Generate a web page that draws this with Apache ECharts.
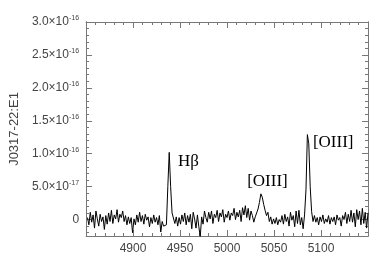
<!DOCTYPE html>
<html><head><meta charset="utf-8">
<script src="https://cdn.jsdelivr.net/npm/echarts@6/dist/echarts.min.js"></script>
<style>html,body{margin:0;padding:0;background:#fff}#c{width:387px;height:277px}</style>
</head><body><div id="c"></div>
<script>
// wavelength (Angstrom)
var wavelength = [4851.5,4853,4854.5,4856,4857.5,4859,4860.5,4862,4863.5,4865,4866.5,4868,4869.5,4871,4872.5,4874,4875.5,4877,4878.5,4880,
4881.5,4883,4884.5,4886,4887.5,4889,4890.5,4892,4893.5,4895,4896.5,4898,4899.5,4901,4902.5,4904,4905.5,4907,4908.5,4910,
4911.5,4913,4914.5,4916,4917.5,4919,4920.5,4922,4923.5,4925,4926.5,4928,4929.5,4931,4932.5,4934,4935.5,4937,4938.5,4940,
4941.5,4943,4944.5,4946,4947.5,4949,4950.5,4952,4953.5,4955,4956.5,4958,4959.5,4961,4962.5,4964,4965.5,4967,4968.5,4970,
4971.5,4973,4974.5,4976,4977.5,4979,4980.5,4982,4983.5,4985,4986.5,4988,4989.5,4991,4992.5,4994,4995.5,4997,4998.5,5000,
5001.5,5003,5004.5,5006,5007.5,5009,5010.5,5012,5013.5,5015,5016.5,5018,5019.5,5021,5022.5,5024,5025.5,5027,5028.5,5030,
5031.5,5033,5034.5,5036,5037.5,5039,5040.5,5042,5043.5,5045,5046.5,5048,5049.5,5051,5052.5,5054,5055.5,5057,5058.5,5060,
5061.5,5063,5064.5,5066,5067.5,5069,5070.5,5072,5073.5,5075,5076.5,5078,5079.5,5081,5082.5,5084,5085.5,5087,5088.5,5090,
5091.5,5093,5094.5,5096,5097.5,5099,5100.5,5102,5103.5,5105,5106.5,5108,5109.5,5111,5112.5,5114,5115.5,5117,5118.5,5120,
5121.5,5123,5124.5,5126,5127.5,5129,5130.5,5132,5133.5,5135,5136.5,5138,5139.5,5141,5142.5,5144,5145.5,5147,5148.5,5150];
// flux in units of 1e-17
var flux = [0.3,-0.8,1.1,-0.4,0.7,-1.3,1.3,0.1,-1.0,0.8,-0.3,0.4,-1.5,0.6,-0.7,1.0,-0.3,1.4,-0.6,0.7,
0.1,1.5,-0.4,0.8,0.3,1.3,-0.3,0.6,-0.8,0.4,-0.6,0.3,-2.0,0.1,-0.8,0.7,-0.4,1.1,-0.3,0.6,
-0.7,0.8,-0.1,0.4,-1.1,0.3,-0.6,0.7,-0.4,0.3,-0.8,0.6,-1.9,-0.3,-1.0,-1.2,-0.8,5.0,10.2,5.0,
1.0,0.8,-0.6,0.4,-1.0,0.3,-0.7,0.7,-0.3,1.0,-0.8,0.6,-0.4,0.8,-1.4,1.1,0.1,-1.3,0.7,-1.1,
-2.6,0.4,-0.7,1.3,0.3,-0.4,1.1,0.1,1.3,-0.6,0.8,0.3,1.4,-0.3,1.0,0.4,1.5,-0.4,0.8,0.3,
1.3,-0.1,1.0,0.6,1.7,0.0,1.1,0.4,1.4,-0.3,1.8,0.7,2.1,0.3,1.7,-0.1,1.3,0.6,-0.4,0.4,
1.0,1.6,2.6,3.9,3.4,2.3,1.4,0.6,1.1,-0.3,0.4,-0.7,0.1,-0.6,0.3,-0.8,0.0,-0.4,0.6,-0.7,
0.8,-0.3,0.4,-1.0,1.1,-0.1,0.6,-1.1,1.3,-0.6,1.4,-0.8,0.3,-1.4,0.7,4.5,12.9,11.5,5.0,1.2,
-0.3,0.6,-0.4,0.3,-0.8,0.4,-0.3,0.7,-0.6,0.1,-0.4,0.6,-0.7,0.3,-0.3,0.4,-0.8,0.7,-0.1,0.3,
-1.0,0.6,0.0,1.1,-0.6,0.8,-0.3,1.4,-0.4,1.0,-1.1,1.5,0.0,1.3,-0.8,1.7,-0.6,1.1,-1.3,1.0];

var xTicks = [4900, 4950, 5000, 5050, 5100];
var yTicks = [0, 5, 10, 15, 20, 25, 30];
var yTickLabels = ['0', '5.0×10{s|-17}', '1.0×10{s|-16}', '1.5×10{s|-16}', '2.0×10{s|-16}', '2.5×10{s|-16}', '3.0×10{s|-16}'];
var yMinorTicks = [-2,-1,1,2,3,4,6,7,8,9,11,12,13,14,16,17,18,19,21,22,23,24,26,27,28,29];
var lineLabels = ['Hβ', '[OIII]', '[OIII]'];
var lineLabelPos = [[4959, 8.8], [5043, 5.8], [5113, 11.7]];

var AX = '#777', TXT = '#444', FONT = 'Liberation Sans, Arial, sans-serif';
var chart = echarts.init(document.getElementById('c'), null, {renderer: 'canvas'});
var pts = wavelength.map(function (w, i) { return [w, flux[i]]; });

function xAx(pos, labels) {
  return {type: 'value', position: pos, min: 4850, max: 5150, interval: 50,
    axisLine: {show: true, onZero: false, lineStyle: {color: AX, width: 1}},
    axisTick: {show: true, inside: true, length: 6, lineStyle: {color: AX}},
    minorTick: {show: true, splitNumber: 5, length: 3, lineStyle: {color: AX}},
    splitLine: {show: false},
    axisLabel: {show: labels, margin: 7, color: TXT, fontSize: 12, fontFamily: FONT,
      formatter: function (v) { return xTicks.indexOf(v) >= 0 ? String(v) : ''; }}};
}
function yAx(pos, values, len, labels) {
  return {type: 'value', position: pos, min: -2.5, max: 30,
    name: (labels ? 'J0317-22:E1' : ''), nameLocation: 'middle', nameGap: 60,
    nameTextStyle: {color: TXT, fontSize: 13, fontFamily: FONT},
    axisLine: {show: true, onZero: false, lineStyle: {color: AX, width: 1}},
    axisTick: {show: true, inside: true, length: len, customValues: values, lineStyle: {color: AX}},
    splitLine: {show: false},
    axisLabel: {show: labels, customValues: yTicks, margin: 7, color: TXT, fontSize: 12, fontFamily: FONT,
      formatter: function (v) { var i = yTicks.indexOf(v); return i >= 0 ? yTickLabels[i] : ''; },
      rich: {s: {fontSize: 7, color: TXT, verticalAlign: 'bottom', padding: [0, 0, 7, 0], fontFamily: FONT}}}};
}

chart.setOption({
  animation: false,
  backgroundColor: '#fff',
  grid: {left: 82, right: 19, top: 22, bottom: 41},
  xAxis: [xAx('bottom', true), xAx('top', false)],
  yAxis: [yAx('left', yTicks, 6, true), yAx('left', yMinorTicks, 3, false),
          yAx('right', yTicks, 6, false), yAx('right', yMinorTicks, 3, false)],
  series: [{
    type: 'line', xAxisIndex: 0, yAxisIndex: 0, data: pts, showSymbol: false, symbol: 'none',
    lineStyle: {color: '#000', width: 1}, silent: true,
    markPoint: {symbol: 'circle', symbolSize: 0,
      label: {show: true, position: 'inside', color: '#000', fontSize: 17,
        fontFamily: 'Liberation Serif, Times New Roman, serif',
        formatter: function (p) { return p.name; }},
      data: lineLabels.map(function (t, i) { return {name: t, coord: lineLabelPos[i]}; })}
  }]
});
</script></body></html>
